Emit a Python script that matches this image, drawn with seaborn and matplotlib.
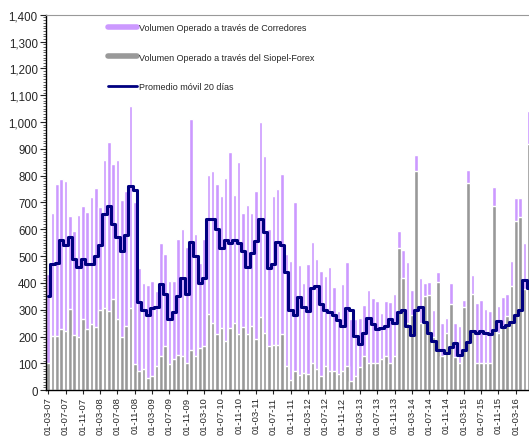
import numpy as np
import pandas as pd
import seaborn as sns
import matplotlib.pyplot as plt
from matplotlib.lines import Line2D
from matplotlib.ticker import MultipleLocator, FuncFormatter

# monthly values, Mar-2007 onwards (millones de USD)
volumen_total = [
    433, 660, 769, 787, 779, 648, 594, 653, 686, 663,
    719, 753, 682, 860, 927, 843, 858, 710, 742, 1061,
    700, 455, 399, 391, 407, 369, 548, 507, 407, 407,
    565, 600, 535, 1011, 582, 476, 563, 802, 818, 769,
    725, 790, 887, 728, 852, 660, 690, 660, 744, 1001,
    872, 601, 725, 750, 806, 507, 480, 703, 467, 401,
    470, 551, 491, 445, 426, 460, 383, 296, 395, 479,
    265, 267, 270, 317, 373, 343, 333, 287, 333, 327,
    358, 594, 524, 479, 374, 877, 418, 400, 404, 300,
    441, 250, 270, 398, 250, 240, 336, 821, 429, 325,
    337, 302, 296, 756, 314, 349, 358, 482, 715, 715,
    548, 1040,
]
siopel = [
    103, 203, 203, 228, 219, 303, 205, 200, 265, 228,
    246, 234, 300, 305, 297, 340, 265, 197, 240, 308,
    98, 73, 80, 47, 54, 91, 128, 165, 98, 116,
    131, 128, 103, 149, 128, 159, 165, 284, 250, 210,
    230, 184, 230, 250, 209, 236, 209, 240, 190, 271,
    215, 165, 168, 168, 209, 90, 38, 73, 56, 63,
    60, 103, 80, 51, 90, 73, 70, 60, 73, 90,
    35, 54, 85, 128, 103, 103, 103, 118, 128, 103,
    128, 532, 420, 250, 280, 818, 250, 352, 354, 200,
    402, 128, 215, 321, 122, 103, 309, 773, 358, 103,
    103, 103, 103, 685, 215, 240, 277, 389, 632, 644,
    377, 918,
]
promedio_20d = [
    350, 470, 476, 560, 540, 570, 490, 460, 490, 470,
    470, 500, 540, 656, 685, 620, 570, 520, 580, 760,
    745, 330, 300, 280, 305, 310, 395, 360, 265, 290,
    352, 420, 360, 551, 500, 400, 420, 640, 640, 600,
    530, 560, 550, 560, 550, 520, 460, 510, 555, 640,
    590, 455, 470, 551, 540, 440, 300, 280, 346, 310,
    297, 380, 390, 320, 300, 290, 280, 262, 240, 308,
    300, 203, 171, 215, 268, 246, 227, 233, 240, 265,
    252, 290, 300, 240, 205, 300, 310, 255, 215, 185,
    150, 150, 140, 160, 175, 132, 150, 180, 222, 215,
    220, 215, 210, 225, 258, 235, 243, 255, 280, 300,
    410, 380,
]
tick_labels = [f"01-{m:02d}-{y:02d}" for y in range(7, 17) for m in (3, 7, 11)][:28]

n = len(volumen_total)
df = pd.DataFrame({"mes": np.arange(n), "total": volumen_total,
                   "siopel": siopel, "promedio": promedio_20d})

sns.set_style("ticks")
plt.rcParams["font.family"] = ["Liberation Sans", "DejaVu Sans"]

purple = "#cc99ff"
grey = "#999999"
navy = "#000080"

fig = plt.figure(figsize=(5.29, 4.39), dpi=100)
ax = fig.add_axes([0.087, 0.109, 0.913, 0.855])

sns.barplot(data=df, x="mes", y="total", color=purple, saturation=1, width=0.82, ax=ax)
sns.barplot(data=df, x="mes", y="siopel", color=grey, saturation=1, width=0.82, ax=ax)
sns.lineplot(data=df, x="mes", y="promedio", color=navy, lw=2.2, drawstyle="steps-mid", ax=ax)

ax.set_xlim(-0.5, 111.05)
ax.set_ylim(0, 1400)
ax.set_xlabel("")
ax.set_ylabel("")

ax.set_xticks(np.arange(0, 4 * len(tick_labels), 4))
ax.set_xticklabels(tick_labels, rotation=90, fontsize=6.8)
ax.yaxis.set_major_locator(MultipleLocator(100))
ax.yaxis.set_minor_locator(MultipleLocator(10))
ax.yaxis.set_major_formatter(FuncFormatter(lambda v, p: f"{int(v):,}"))
ax.tick_params(axis="y", labelsize=8.3, length=4, width=0.8, pad=2)
ax.tick_params(axis="y", which="minor", length=2, width=0.5)
ax.tick_params(axis="x", length=3, width=0.8, pad=1.5)

for s in ("left", "bottom"):
    ax.spines[s].set_color("black")
    ax.spines[s].set_linewidth(1)
ax.spines["top"].set_color("#999999")
ax.spines["top"].set_linewidth(0.8)
ax.spines["right"].set_visible(False)

handles = [
    Line2D([], [], color=purple, lw=4),
    Line2D([], [], color=grey, lw=4),
    Line2D([], [], color=navy, lw=2),
]
labels = [
    "Volumen Operado a través de Corredores",
    "Volumen Operado a través del Siopel-Forex",
    "Promedio móvil 20 días",
]
fig.legend(handles, labels, loc="upper left", bbox_to_anchor=(0.195, 0.956),
           frameon=False, fontsize=6.5, handlelength=3.2, handletextpad=0.3,
           labelspacing=2.3, borderpad=0)

plt.savefig("out.png", dpi=100)
